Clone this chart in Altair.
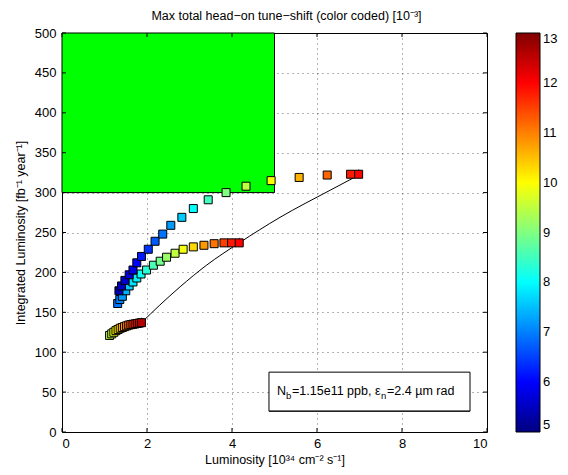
import altair as alt
import pandas as pd

# ---- data ----
up_x = [1.34, 1.40, 1.48, 1.58, 1.67, 1.76, 1.87, 2.03, 2.19, 2.37, 2.56, 2.82, 3.09, 3.44, 3.86, 4.33, 4.92, 5.58, 6.24, 6.79, 6.98]
up_y = [177, 183, 190, 197, 203, 212, 220, 229, 239, 248, 259, 269, 280, 291, 300, 308, 315, 319, 322, 323, 323]
up_c = [5.4, 5.5, 5.6, 5.7, 5.8, 6.0, 6.2, 6.4, 6.7, 6.9, 7.2, 7.6, 8.0, 8.5, 9.0, 9.5, 10.0, 10.6, 11.2, 11.8, 12.0]

mid_x = [1.31, 1.36, 1.42, 1.50, 1.58, 1.67, 1.76, 1.86, 1.99, 2.15, 2.31, 2.46, 2.66, 2.85, 3.09, 3.34, 3.58, 3.81, 3.99, 4.17]
mid_y = [161, 166, 170, 177, 183, 188, 193, 198, 203, 209, 214, 219, 224, 229, 232, 234, 236, 237, 237, 237]
mid_c = [6.9, 7.0, 7.2, 7.4, 7.6, 7.8, 7.9, 8.1, 8.3, 8.6, 8.9, 9.2, 9.5, 9.9, 10.3, 10.8, 11.1, 11.5, 11.8, 12.0]

low_x = [1.12, 1.17, 1.22, 1.27, 1.32, 1.37, 1.42, 1.47, 1.52, 1.57, 1.62, 1.67, 1.72, 1.77, 1.82, 1.87]
low_y = [121, 123, 125, 127, 128.5, 130, 131, 132, 133, 134, 134.5, 135, 135.5, 136, 136.5, 137]
low_c = [9.4, 9.6, 9.8, 10.0, 10.2, 10.4, 10.6, 10.8, 11.0, 11.2, 11.4, 11.6, 11.8, 12.0, 12.3, 12.6]

curve_x = [1.87, 2.30, 2.78, 3.40, 4.17, 5.13, 6.31, 6.95]
curve_y = [137, 159, 182, 209, 237, 269, 303, 321]

x_ticks = [0, 2, 4, 6, 8, 10]
y_ticks = [0, 50, 100, 150, 200, 250, 300, 350, 400, 450, 500]
cbar_ticks = [5, 6, 7, 8, 9, 10, 11, 12, 13]

target_x = [0, 5]
target_y = [300, 500]

FONT = "Liberation Sans"
W, H = 425, 399

pts = pd.DataFrame({
    "x": mid_x + up_x + low_x,
    "y": mid_y + up_y + low_y,
    "c": mid_c + up_c + low_c,
    "order": list(range(len(mid_x) + len(up_x) + len(low_x))),
})
ends = pd.DataFrame({"x": [low_x[-1], mid_x[-1], up_x[-1]],
                     "y": [low_y[-1], mid_y[-1], up_y[-1]]})
curve = pd.DataFrame({"x": curve_x, "y": curve_y})
rect = pd.DataFrame({"x": [target_x[0]], "x2": [target_x[1]], "y": [target_y[0]], "y2": [target_y[1]]})

xs = alt.Scale(domain=[0, 10], nice=False, zero=False)
ys = alt.Scale(domain=[0, 500], nice=False, zero=False)

xax = alt.Axis(values=x_ticks, title="Luminosity [10³⁴ cm⁻² s⁻¹]", labelPadding=5,
               titlePadding=3, grid=True, labelOverlap=False, tickCount=6)
yax = alt.Axis(values=y_ticks, title="Integrated Luminosity [fb⁻¹ year⁻¹]", labelPadding=6,
               titlePadding=7, grid=True, labelOverlap=False, tickCount=11)


def X(f):
    return alt.X(f, scale=xs, axis=xax)


def Y(f):
    return alt.Y(f, scale=ys, axis=yax)


green = alt.Chart(rect).mark_rect(color="#00ff00", stroke="#000000", strokeWidth=1).encode(
    x=X("x:Q"), x2="x2:Q", y=Y("y:Q"), y2="y2:Q")

line = alt.Chart(curve).mark_line(color="black", strokeWidth=1, interpolate="monotone").encode(
    x=X("x:Q"), y=Y("y:Q"))

tri = alt.Chart(ends).mark_point(shape="triangle-up", size=60, filled=True, color="black",
                                 yOffset=-2).encode(x=X("x:Q"), y=Y("y:Q"))

jet_dom = [5, 6, 8, 10, 12, 13]
jet_rng = ["#000080", "#0000ff", "#00ffff", "#ffff00", "#ff0000", "#800000"]

squares = alt.Chart(pts).mark_square(size=64, stroke="black", strokeWidth=1, opacity=1).encode(
    x=X("x:Q"),
    y=Y("y:Q"),
    color=alt.Color("c:Q", scale=alt.Scale(domain=jet_dom, range=jet_rng, interpolate="rgb"),
                    legend=alt.Legend(title=None, orient="right", offset=29, values=cbar_ticks,
                                      gradientLength=H, gradientThickness=24,
                                      gradientStrokeColor="black", gradientStrokeWidth=1,
                                      labelFontSize=13, labelFont=FONT, labelColor="black",
                                      labelOffset=3, labelOverlap=False, direction="vertical")),
    order="order:Q")

one = pd.DataFrame({"a": [0]})
# annotation box
box = alt.Chart(one).mark_rect(fill="white", stroke="black", strokeWidth=1).encode(
    x=alt.datum(4.87, scale=xs), x2=alt.datum(9.6), y=alt.datum(26, scale=ys), y2=alt.datum(75))
box_shadow = alt.Chart(one).mark_rule(color="#222", strokeWidth=1.5).encode(
    x=alt.datum(4.87, scale=xs), x2=alt.datum(9.6), y=alt.datum(26, scale=ys))


def txt(s, dx, dy=0, size=12.5):
    return alt.Chart(one).mark_text(
        text=s, align="left", baseline="middle", dx=dx, dy=dy, fontSize=size, font=FONT, color="black"
    ).encode(x=alt.datum(5.06, scale=xs), y=alt.datum(51, scale=ys))


t1 = txt("N", 0)
t2 = txt("b", 9, 5, 9.5)
t3 = txt("=1.15e11 ppb, ε", 15)
t4 = txt("n", 104, 5, 9.5)
t5 = txt("=2.4 µm rad", 110)

# inward tick marks
xt = alt.Chart(pd.DataFrame({"x": x_ticks}))
yt = alt.Chart(pd.DataFrame({"y": y_ticks}))
tk_b = xt.mark_rule(color="black").encode(x=X("x:Q"), y=alt.value(H), y2=alt.value(H - 4))
tk_t = xt.mark_rule(color="black").encode(x=X("x:Q"), y=alt.value(0), y2=alt.value(4))
tk_l = yt.mark_rule(color="black").encode(y=Y("y:Q"), x=alt.value(0), x2=alt.value(4))
tk_r = yt.mark_rule(color="black").encode(y=Y("y:Q"), x=alt.value(W), x2=alt.value(W - 4))

chart = alt.layer(green, box, box_shadow, t1, t2, t3, t4, t5, line, tri, squares,
                  tk_b, tk_t, tk_l, tk_r).properties(
    width=W, height=H,
    background="white",
    title=alt.TitleParams("Max total head−on tune−shift (color coded) [10⁻³]", font=FONT,
                          fontSize=12.5, fontWeight="normal", color="black", offset=5, dx=12),
    autosize=alt.AutoSizeParams(type="none"),
    padding={"left": 54, "top": 25, "right": 73, "bottom": 35},
).configure_view(stroke="black", strokeWidth=1).configure_axis(
    labelFont=FONT, labelFontSize=13, labelColor="black", titleFont=FONT, titleFontSize=12.5,
    titleFontWeight="normal", titleColor="black", ticks=False, tickSize=0, domain=False,
    gridColor="black", gridDash=[1, 4], gridOpacity=0.6, gridWidth=1,
)

chart.save("out.html", embed_options={"renderer": "svg", "actions": False})
